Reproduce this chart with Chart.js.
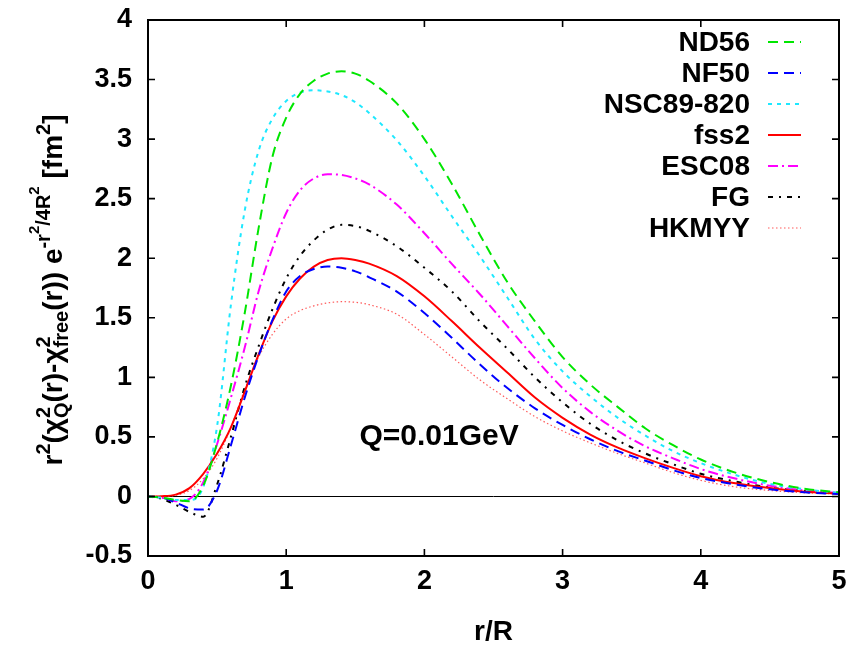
<!DOCTYPE html>
<html><head><meta charset="utf-8">
<script src="https://cdn.jsdelivr.net/npm/chart.js@4/dist/chart.umd.min.js"></script>
<style>html,body{margin:0;padding:0;background:#fff}</style>
</head><body>
<canvas id="c" width="866" height="649"></canvas>
<script>
// ---- data ----
const r      = [0,0.1,0.2,0.3,0.4,0.5,0.6,0.7,0.8,0.9,1.0,1.1,1.2,1.3,1.4,1.5,1.6,1.8,2.0,2.2,2.4,2.6,2.8,3.0,3.2,3.4,3.6,3.8,4.0,4.25,4.5,4.75,5.0];
const nd56   = [0,-0.01,-0.03,-0.04,0.09,0.45,0.93,1.54,2.25,2.85,3.18,3.38,3.49,3.55,3.57,3.55,3.49,3.30,3.00,2.62,2.20,1.80,1.47,1.17,0.94,0.75,0.57,0.43,0.31,0.20,0.12,0.065,0.035];
const nf50   = [0,-0.01,-0.05,-0.10,-0.11,0.05,0.43,0.83,1.18,1.48,1.72,1.85,1.91,1.93,1.92,1.89,1.84,1.72,1.54,1.33,1.11,0.91,0.74,0.60,0.48,0.38,0.30,0.22,0.155,0.10,0.06,0.035,0.02];
const nsc89  = [0,-0.01,-0.03,-0.03,0.08,0.59,1.61,2.40,2.90,3.17,3.32,3.39,3.41,3.40,3.37,3.31,3.22,2.99,2.69,2.35,2.02,1.67,1.32,1.05,0.84,0.66,0.51,0.38,0.28,0.18,0.105,0.06,0.03];
const fss2   = [0,0.002,0.015,0.07,0.19,0.36,0.58,0.88,1.19,1.47,1.68,1.83,1.93,1.985,2.0,1.985,1.955,1.85,1.68,1.47,1.25,1.04,0.83,0.66,0.52,0.41,0.32,0.24,0.17,0.11,0.07,0.04,0.025];
const esc08  = [0,-0.01,-0.04,-0.02,0.12,0.44,0.83,1.25,1.72,2.08,2.38,2.57,2.67,2.705,2.70,2.67,2.62,2.45,2.21,1.95,1.70,1.43,1.16,0.91,0.71,0.55,0.42,0.32,0.23,0.15,0.09,0.05,0.03];
const fg     = [0,-0.02,-0.07,-0.13,-0.17,0.10,0.50,0.92,1.26,1.57,1.83,2.02,2.15,2.24,2.28,2.27,2.23,2.10,1.92,1.72,1.47,1.24,1.00,0.79,0.61,0.47,0.36,0.27,0.19,0.125,0.075,0.045,0.025];
const hkmyy  = [0,0,0.01,0.05,0.15,0.32,0.58,0.90,1.17,1.36,1.49,1.56,1.60,1.625,1.635,1.63,1.61,1.53,1.36,1.17,0.98,0.82,0.67,0.55,0.45,0.36,0.28,0.20,0.135,0.08,0.05,0.03,0.02];
const seriesNames = ["ND56","NF50","NSC89-820","fss2","ESC08","FG","HKMYY"];
const xTicks = [0,1,2,3,4,5];
const yTicks = [-0.5,0,0.5,1,1.5,2,2.5,3,3.5,4];
const xTitle = "r/R";
const annotationText = "Q=0.01GeV";
const annotationPos = [2.106, 0.50];

// ---- styling ----
const FONT = "'Liberation Sans', Arial, sans-serif";
const styles = [
  {color:'#00e600', dash:[10,6], width:2},
  {color:'#0000ff', dash:[10,6], width:2},
  {color:'#1ee8ff', dash:[4,5],  width:2},
  {color:'#ff0000', dash:[],     width:2},
  {color:'#ff00ff', dash:[10,4,2,4], width:2},
  {color:'#000000', dash:[5,6,2,6], width:2},
  {color:'#ff5a5a', dash:[1.5,2.5], width:1.2}
];
const allSeries = [nd56,nf50,nsc89,fss2,esc08,fg,hkmyy];

const datasets = allSeries.map((vals,i)=>({
  label: seriesNames[i],
  data: r.map((x,k)=>({x:x, y:vals[k]})),
  borderColor: styles[i].color,
  borderDash: styles[i].dash,
  borderWidth: styles[i].width,
  pointRadius: 0,
  fill: false,
  cubicInterpolationMode: 'monotone'
}));

// y axis title as rich text (superscripts / subscripts)
const yLabel = [
  {main:'r'},{sup:'2'},{main:'(\u03C7'},{sup:'2',sub:'Q'},{main:'(r)-\u03C7'},{sup:'2',sub:'free'},
  {main:'(r)) e'},{sup:'-r'},{sup2:'2'},{sup:'/4R'},{sup2:'2'},{main:' [fm'},{sup:'2'},{main:']'}
];

const decor = {
  id:'decor',
  afterDatasetsDraw(chart){
    const {ctx, chartArea:a, scales:{x,y}} = chart;
    ctx.save();
    // frame
    ctx.strokeStyle='#000'; ctx.lineWidth=2; ctx.setLineDash([]);
    ctx.strokeRect(a.left, a.top, a.right-a.left, a.bottom-a.top);
    // inward ticks on all sides
    const TL=7;
    ctx.lineWidth=1.6;
    ctx.beginPath();
    xTicks.forEach(v=>{
      const px=x.getPixelForValue(v);
      if (px<=a.left+1||px>=a.right-1) return;
      ctx.moveTo(px,a.bottom); ctx.lineTo(px,a.bottom-TL);
      ctx.moveTo(px,a.top); ctx.lineTo(px,a.top+TL);
    });
    yTicks.forEach(v=>{
      const py=y.getPixelForValue(v);
      if (py<=a.top+1||py>=a.bottom-1) return;
      ctx.moveTo(a.left,py); ctx.lineTo(a.left+TL,py);
      ctx.moveTo(a.right,py); ctx.lineTo(a.right-TL,py);
    });
    ctx.stroke();
    // legend
    ctx.font = "bold 28px "+FONT;
    ctx.textAlign='right'; ctx.textBaseline='middle'; ctx.fillStyle='#000';
    chart.data.datasets.forEach((d,i)=>{
      const cy = a.top + 22 + i*31;
      ctx.fillText(d.label, a.right-89, cy+1);
      ctx.beginPath();
      ctx.strokeStyle=d.borderColor; ctx.lineWidth=d.borderWidth; ctx.setLineDash(d.borderDash);
      ctx.moveTo(a.right-71, cy); ctx.lineTo(a.right-38, cy); ctx.stroke();
    });
    ctx.setLineDash([]);
    // annotation
    ctx.font = "bold 30px "+FONT; ctx.textAlign='center'; ctx.fillStyle='#000';
    ctx.fillText(annotationText, x.getPixelForValue(annotationPos[0]), y.getPixelForValue(annotationPos[1]));
    // y title
    const fMain="bold 28px "+FONT, fSup="bold 20px "+FONT, fSup2="bold 15px "+FONT;
    const w = s=>ctx.measureText(s).width;
    let total=0;
    const widths = yLabel.map(seg=>{
      let ww=0;
      if (seg.main!==undefined){ctx.font=fMain; ww=w(seg.main);} 
      if (seg.sup!==undefined){ctx.font=fSup; ww=Math.max(ww,w(seg.sup));}
      if (seg.sub!==undefined){ctx.font=fSup; ww=Math.max(ww,w(seg.sub));}
      if (seg.sup2!==undefined){ctx.font=fSup2; ww=Math.max(ww,w(seg.sup2));}
      total+=ww; return ww;
    });
    ctx.translate(62, 290);
    ctx.rotate(-Math.PI/2);
    ctx.textAlign='left'; ctx.textBaseline='alphabetic';
    let cx=-total/2;
    yLabel.forEach((seg,i)=>{
      if (seg.main!==undefined){ctx.font=fMain; ctx.fillText(seg.main,cx,0);} 
      if (seg.sup!==undefined){ctx.font=fSup; ctx.fillText(seg.sup,cx,-12);} 
      if (seg.sub!==undefined){ctx.font=fSup; ctx.fillText(seg.sub,cx,6);} 
      if (seg.sup2!==undefined){ctx.font=fSup2; ctx.fillText(seg.sup2,cx,-23);} 
      cx+=widths[i];
    });
    ctx.restore();
  }
};

new Chart(document.getElementById('c'), {
  type:'line',
  data:{datasets},
  options:{
    responsive:false, animation:false, devicePixelRatio:1,
    layout:{padding:{left:0,right:27,top:20,bottom:0}},
    plugins:{legend:{display:false}, tooltip:{enabled:false}},
    scales:{
      x:{type:'linear', min:0, max:5,
        afterBuildTicks(s){ s.ticks = xTicks.map(v=>({value:v})); },
        afterFit(s){ s.height = 93; s.paddingLeft = 0; s.paddingRight = 0; },
        ticks:{color:'#000', font:{family:FONT, size:27, weight:'bold'}, padding:9, maxRotation:0, callback:v=>String(v)},
        grid:{display:false, drawTicks:false}, border:{display:false},
        title:{display:true, text:xTitle, color:'#000', font:{family:FONT, size:28, weight:'bold'}, padding:{top:0,bottom:0}}
      },
      y:{type:'linear', min:-0.5, max:4,
        afterBuildTicks(s){ s.ticks = yTicks.map(v=>({value:v})); },
        afterFit(s){ s.width = 148; s.paddingTop = 0; s.paddingBottom = 0; },
        ticks:{color:'#000', font:{family:FONT, size:27, weight:'bold'}, padding:16, callback:v=>String(v)},
        grid:{drawTicks:false, color:(c)=> (c.tick && c.tick.value===0) ? '#000' : 'rgba(0,0,0,0)', lineWidth:1},
        border:{display:false}
      }
    }
  },
  plugins:[decor]
});
</script>
</body></html>
